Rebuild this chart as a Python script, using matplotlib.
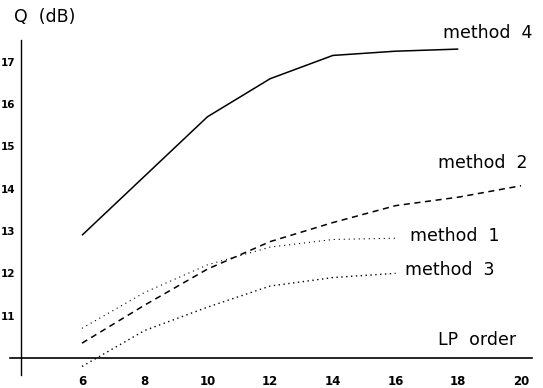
import matplotlib
matplotlib.use("Agg")
import matplotlib.pyplot as plt

# LP order (x) and Q in dB for each method
order_m4 = [6, 8, 10, 12, 14, 16, 18]
q_m4 = [12.9, 14.3, 15.7, 16.6, 17.15, 17.25, 17.3]

order_m2 = [6, 8, 10, 12, 14, 16, 18, 20]
q_m2 = [10.35, 11.25, 12.1, 12.75, 13.2, 13.6, 13.8, 14.07]

order_m1 = [6, 8, 10, 12, 14, 16]
q_m1 = [10.7, 11.55, 12.2, 12.62, 12.8, 12.83]

order_m3 = [6, 8, 10, 12, 14, 16]
q_m3 = [9.8, 10.65, 11.2, 11.7, 11.9, 12.0]

x_ticks = [6, 8, 10, 12, 14, 16, 18, 20]
y_ticks = [11, 12, 13, 14, 15, 16, 17]

plt.rcParams['font.family'] = ['DejaVu Sans']

fig = plt.figure(figsize=(5.43, 3.88), dpi=100)
ax = fig.add_axes([0, 0, 1, 1])
ax.set_xlim(3.385, 20.70)
ax.set_ylim(9.29, 18.46)

# curves
ax.plot(order_m4, q_m4, color='black', lw=1.1, solid_capstyle='butt')
ax.plot(order_m2, q_m2, color='black', lw=1.1, linestyle=(0, (4, 3)))
ax.plot(order_m1, q_m1, color='black', lw=0.8, linestyle=(0, (1, 3.5)))
ax.plot(order_m3, q_m3, color='black', lw=1.0, linestyle=(0, (1, 2.5)))

# axes drawn as crossing lines
for s in ['top', 'right']:
    ax.spines[s].set_visible(False)
ax.spines['left'].set_position(('data', 4.05))
ax.spines['left'].set_bounds(9.6, 17.52)
ax.spines['left'].set_linewidth(1.0)
ax.spines['bottom'].set_position(('data', 10))
ax.spines['bottom'].set_bounds(3.70, 20.35)
ax.spines['bottom'].set_linewidth(1.2)

ax.set_xticks(x_ticks)
ax.set_xticklabels([str(t) for t in x_ticks], fontsize=8.5, fontweight='bold')
ax.set_yticks(y_ticks)
ax.set_yticklabels([str(t) for t in y_ticks], fontsize=7.5, fontweight='bold')
ax.tick_params(axis='x', length=0, pad=12)
ax.tick_params(axis='y', length=0, pad=4)

# labels
lbl = dict(fontsize=12.5, color='black', ha='left', va='center')
ax.text(3.83, 18.06, 'Q  (dB)', **lbl)
ax.text(17.35, 10.43, 'LP  order', **lbl)
ax.text(17.51, 17.68, 'method  4', **lbl)
ax.text(17.35, 14.61, 'method  2', **lbl)
ax.text(16.46, 12.88, 'method  1', **lbl)
ax.text(16.30, 12.08, 'method  3', **lbl)

fig.savefig('out.png', dpi=100)
